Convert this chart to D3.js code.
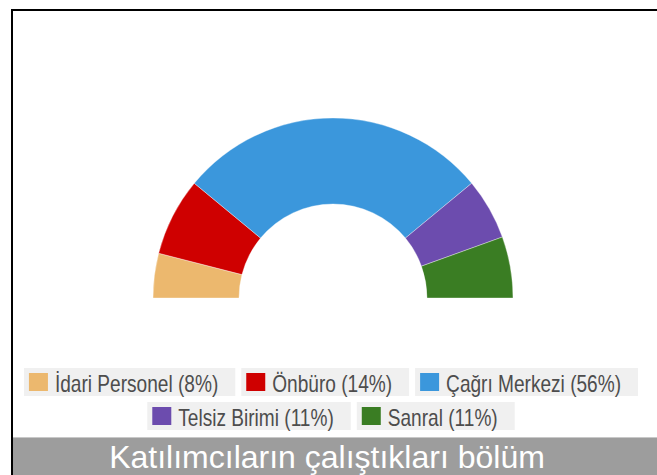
<!DOCTYPE html>
<html>
<head>
<meta charset="utf-8">
<script src="https://cdn.jsdelivr.net/npm/d3@7"></script>
<style>
  body { margin: 0; background: #fff; }
  svg { display: block; font-family: "Liberation Sans", Arial, sans-serif; }
</style>
</head>
<body>
<div id="chart"></div>
<script>
const width = 657;
const height = 475;

// data
const categories = ["İdari Personel", "Önbüro", "Çağrı Merkezi", "Telsiz Birimi", "Sanral"];
const values = [8, 14, 56, 11, 11];
const colors = ["#ecb86e", "#cf0000", "#3b97dc", "#6c4cae", "#3a7d23"];
const legendRows = [[0, 1, 2], [3, 4]];
const title = "Katılımcıların çalıştıkları bölüm";

const svg = d3
  .select("#chart")
  .append("svg")
  .attr("width", width)
  .attr("height", height);

// frame
svg.append("rect")
  .attr("x", 12)
  .attr("y", 10)
  .attr("width", width + 20)
  .attr("height", height + 20)
  .attr("fill", "none")
  .attr("stroke", "#000")
  .attr("stroke-width", 2);

// half donut
const cx = 333;
const cy = 298;
const outerR = 180;
const innerR = 94;

const pie = d3
  .pie()
  .sort(null)
  .value((d) => d.value)
  .startAngle(-Math.PI / 2)
  .endAngle(Math.PI / 2);

const arc = d3.arc().innerRadius(innerR).outerRadius(outerR);

const data = categories.map((c, i) => ({ name: c, value: values[i], color: colors[i] }));

svg.append("g")
  .attr("transform", `translate(${cx},${cy})`)
  .selectAll("path")
  .data(pie(data))
  .enter()
  .append("path")
  .attr("d", arc)
  .attr("fill", (d) => d.data.color)
  .attr("stroke", "#fff")
  .attr("stroke-width", 0.6)
  .attr("stroke-opacity", 0.6);

// legend (text is tall and narrow in the original)
const legendY = [368, 402];
const boxH = 28;
const gap = 6;
const squeeze = 0.83;
const legend = svg.append("g").attr("class", "legend");

legendRows.forEach((row, r) => {
  const items = row.map((i) => {
    const g = legend.append("g");
    const bg = g.append("rect")
      .attr("height", boxH)
      .attr("fill", "#f0f0f0");
    g.append("rect")
      .attr("x", 5)
      .attr("y", 5)
      .attr("width", 19)
      .attr("height", 18)
      .attr("fill", colors[i]);
    const t = g.append("text")
      .attr("transform", `translate(31,24) scale(${squeeze},1)`)
      .attr("font-size", 23)
      .attr("fill", "#4d4d4d")
      .text(`${categories[i]} (${values[i]}%)`);
    const w = 31 + t.node().getComputedTextLength() * squeeze + 17;
    bg.attr("width", w);
    return { g, w };
  });
  const total = d3.sum(items, (d) => d.w) + gap * (items.length - 1);
  let x = 331 - total / 2;
  items.forEach((it) => {
    it.g.attr("transform", `translate(${x},${legendY[r]})`);
    x += it.w + gap;
  });
});

// title band
svg.append("rect")
  .attr("x", 13)
  .attr("y", 437)
  .attr("width", width)
  .attr("height", 1)
  .attr("fill", "#c8c8c8");
svg.append("rect")
  .attr("x", 13)
  .attr("y", 438)
  .attr("width", width)
  .attr("height", height - 438)
  .attr("fill", "#9d9d9d");

svg.append("text")
  .attr("x", 327)
  .attr("y", 468)
  .attr("text-anchor", "middle")
  .attr("font-size", 32)
  .attr("fill", "#fff")
  .text(title);
</script>
</body>
</html>
